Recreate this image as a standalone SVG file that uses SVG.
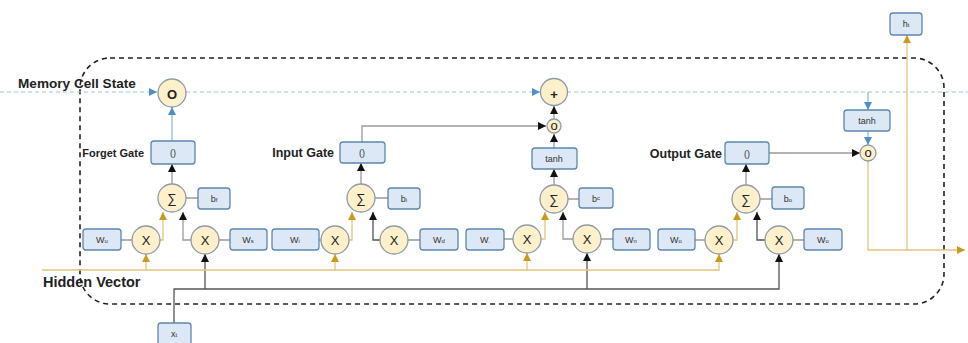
<svg xmlns="http://www.w3.org/2000/svg" width="968" height="343" viewBox="0 0 968 343">
<style>
.bx{fill:#dce8f5;stroke:#5d86ad;stroke-width:1.3}
.cc{fill:#fdf0cb;stroke:#8e9ba6;stroke-width:1.3}
.bt{font-family:"Liberation Sans",Arial,sans-serif;font-size:9px;fill:#333;text-anchor:middle}
.ct{font-family:"Liberation Sans",Arial,sans-serif;font-size:13px;fill:#222;text-anchor:middle}
.lb{font-family:"Liberation Sans",Arial,sans-serif;font-weight:bold;fill:#222}
.s{font-size:6px}
.g{fill:none;stroke:#9a9a9a;stroke-width:1.3}
.k{fill:none;stroke:#555;stroke-width:1.3}
.o{fill:none;stroke:#e2c57c;stroke-width:1.3}
.b{fill:none;stroke:#86b5db;stroke-width:1.2}
.bd{fill:none;stroke:#9cc4e0;stroke-width:1.2;stroke-dasharray:4 3}
</style>
<defs>
<marker id="ak" viewBox="0 0 10 10" refX="10" refY="5" markerWidth="8" markerHeight="8" orient="auto" markerUnits="userSpaceOnUse"><path d="M0,0 L10,5 L0,10 z" fill="#111"/></marker>
<marker id="ao" viewBox="0 0 10 10" refX="10" refY="5" markerWidth="8" markerHeight="8" orient="auto" markerUnits="userSpaceOnUse"><path d="M0,0 L10,5 L0,10 z" fill="#c99a1c"/></marker>
<marker id="ab" viewBox="0 0 10 10" refX="10" refY="5" markerWidth="8" markerHeight="8" orient="auto" markerUnits="userSpaceOnUse"><path d="M0,0 L10,5 L0,10 z" fill="#4f90c8"/></marker>
</defs>

<rect x="80" y="58" width="864" height="246" rx="30" fill="none" stroke="#222" stroke-width="1.6" stroke-dasharray="5 4"/>

<g id="connectors">
<path class="bd" d="M0,92 H157" marker-end="url(#ab)"/>
<path class="bd" d="M186,92 H540" marker-end="url(#ab)"/>
<path class="bd" d="M567,92 H968"/>
<path class="b" d="M172,141 V107" marker-end="url(#ab)"/>
<path class="b" d="M868,92 V110" marker-end="url(#ab)"/>
<path class="b" d="M868,131 V145" marker-end="url(#ab)"/>

<path class="g" d="M172,184 V164" marker-end="url(#ak)"/>
<path class="g" d="M191,240 H183 V212" marker-end="url(#ak)"/>
<path class="g" d="M361,184 V163" marker-end="url(#ak)"/>
<path class="k" d="M380,240 H373 V212" marker-end="url(#ak)"/>
<path class="g" d="M362,142 V126 H546" marker-end="url(#ak)"/>
<path class="g" d="M554,185 V169" marker-end="url(#ak)"/>
<path class="g" d="M554,148 V134" marker-end="url(#ak)"/>
<path class="g" d="M554,119 V106" marker-end="url(#ak)"/>
<path class="g" d="M573,239 H563 V212" marker-end="url(#ak)"/>
<path class="g" d="M746,185 V164" marker-end="url(#ak)"/>
<path class="k" d="M765,240 H757 V212" marker-end="url(#ak)"/>
<path class="g" d="M769,153 H860" marker-end="url(#ak)"/>

<path class="k" d="M174,323 V289 H779 V254" marker-end="url(#ak)"/>
<path class="k" d="M205,289 V254" marker-end="url(#ak)"/>
<path class="k" d="M587,289 V253" marker-end="url(#ak)"/>

<path class="o" d="M42,270 H719 V254" marker-end="url(#ao)"/>
<path class="o" d="M146,270 V254" marker-end="url(#ao)"/>
<path class="o" d="M335,270 V254" marker-end="url(#ao)"/>
<path class="o" d="M527,270 V253" marker-end="url(#ao)"/>
<path class="o" d="M160,240 H163 V212" marker-end="url(#ao)"/>
<path class="o" d="M349,240 H352 V212" marker-end="url(#ao)"/>
<path class="o" d="M541,239 H545 V212" marker-end="url(#ao)"/>
<path class="o" d="M733,240 H737 V212" marker-end="url(#ao)"/>
<path class="o" d="M868,161 V250 H965" marker-end="url(#ao)"/>
<path class="o" d="M907,250 V35" marker-end="url(#ao)"/>

<path class="g" d="M121,240 H132 M219,240 H230 M319,240 H321 M408,240 H420 M504,239 H513 M601,239 H613 M695,240 H705 M793,240 H804"/>
<path class="g" d="M186,198 H198 M375,198 H388 M568,199 H579 M760,199 H772"/>
</g>

<text class="lb" x="18" y="88" font-size="13.6">Memory Cell State</text>
<text class="lb" x="43" y="287" font-size="14.5">Hidden Vector</text>

<g id="mem"><circle class="cc" cx="172" cy="93" r="14"/><text class="ct" x="172" y="99" font-weight="bold" font-size="16">O</text></g>
<g id="plus"><circle class="cc" cx="554" cy="92" r="13.5"/><text class="ct" x="554" y="99" font-weight="bold" font-size="20">+</text></g>
<g id="mulc"><circle class="cc" cx="554" cy="126" r="7"/><text class="ct" x="554" y="130" font-size="10">o</text></g>
<g id="mulh"><circle class="cc" cx="868" cy="153" r="8"/><text class="ct" x="868" y="157" font-size="10">o</text></g>

<g id="fgate"><text class="lb" x="144" y="157" font-size="11" text-anchor="end">Forget Gate</text><rect class="bx" x="151" y="141" width="44" height="23" rx="3"/><text class="bt" x="173" y="156" font-size="10">()</text></g>
<g id="igate"><text class="lb" x="334" y="157" font-size="12.5" text-anchor="end">Input Gate</text><rect class="bx" x="340" y="142" width="45" height="21" rx="3"/><text class="bt" x="362" y="156" font-size="10">()</text></g>
<g id="ogate"><text class="lb" x="722" y="158" font-size="12.5" text-anchor="end">Output Gate</text><rect class="bx" x="725" y="142" width="44" height="22" rx="3"/><text class="bt" x="747" y="157" font-size="10">()</text></g>
<g id="tanhc"><rect class="bx" x="532" y="148" width="45" height="21" rx="3"/><text class="bt" x="554" y="162">tanh</text></g>
<g id="tanhh"><rect class="bx" x="844" y="110" width="46" height="21" rx="3"/><text class="bt" x="867" y="124">tanh</text></g>
<g id="ht"><rect class="bx" x="890" y="13" width="32" height="22" rx="3"/><text class="bt" x="906" y="27">h<tspan class="s">t</tspan></text></g>
<g id="xt"><rect class="bx" x="158" y="323" width="33" height="22" rx="3"/><text class="bt" x="174" y="337">x<tspan class="s">t</tspan></text></g>

<g id="sf"><circle class="cc" cx="172" cy="198" r="14"/><text class="ct" x="172" y="203">∑</text></g>
<g id="si"><circle class="cc" cx="361" cy="198" r="14"/><text class="ct" x="361" y="203">∑</text></g>
<g id="sc"><circle class="cc" cx="554" cy="199" r="14"/><text class="ct" x="554" y="204">∑</text></g>
<g id="so"><circle class="cc" cx="746" cy="199" r="14"/><text class="ct" x="746" y="204">∑</text></g>

<g id="bf"><rect class="bx" x="198" y="188" width="32" height="21" rx="3"/><text class="bt" x="214" y="202">b<tspan class="s">f</tspan></text></g>
<g id="bi"><rect class="bx" x="388" y="188" width="32" height="21" rx="3"/><text class="bt" x="404" y="202">b<tspan class="s">i</tspan></text></g>
<g id="bc"><rect class="bx" x="579" y="188" width="34" height="20" rx="3"/><text class="bt" x="596" y="202">b<tspan class="s" dy="-2">c</tspan></text></g>
<g id="bo"><rect class="bx" x="772" y="187" width="32" height="22" rx="3"/><text class="bt" x="788" y="202">b<tspan class="s">o</tspan></text></g>

<g id="x1"><circle class="cc" cx="146" cy="240" r="14"/><text class="ct" x="146" y="245">X</text></g>
<g id="x2"><circle class="cc" cx="205" cy="240" r="14"/><text class="ct" x="205" y="245">X</text></g>
<g id="x3"><circle class="cc" cx="335" cy="240" r="14"/><text class="ct" x="335" y="245">X</text></g>
<g id="x4"><circle class="cc" cx="394" cy="240" r="14"/><text class="ct" x="394" y="245">X</text></g>
<g id="x5"><circle class="cc" cx="527" cy="239" r="14"/><text class="ct" x="527" y="244">X</text></g>
<g id="x6"><circle class="cc" cx="587" cy="239" r="14"/><text class="ct" x="587" y="244">X</text></g>
<g id="x7"><circle class="cc" cx="719" cy="240" r="14"/><text class="ct" x="719" y="245">X</text></g>
<g id="x8"><circle class="cc" cx="779" cy="240" r="14"/><text class="ct" x="779" y="245">X</text></g>

<g id="w1"><rect class="bx" x="83" y="229" width="38" height="21" rx="3"/><text class="bt" x="102" y="243">W<tspan class="s">u</tspan></text></g>
<g id="w2"><rect class="bx" x="230" y="229" width="37" height="21" rx="3"/><text class="bt" x="248" y="243">W<tspan class="s">s</tspan></text></g>
<g id="w3"><rect class="bx" x="272" y="229" width="47" height="21" rx="3"/><text class="bt" x="295" y="243">W<tspan class="s">i</tspan></text></g>
<g id="w4"><rect class="bx" x="420" y="229" width="38" height="21" rx="3"/><text class="bt" x="439" y="243">W<tspan class="s">d</tspan></text></g>
<g id="w5"><rect class="bx" x="466" y="229" width="38" height="21" rx="3"/><text class="bt" x="485" y="243">W<tspan class="s">.</tspan></text></g>
<g id="w6"><rect class="bx" x="613" y="229" width="37" height="21" rx="3"/><text class="bt" x="631" y="243">W<tspan class="s">n</tspan></text></g>
<g id="w7"><rect class="bx" x="658" y="229" width="37" height="21" rx="3"/><text class="bt" x="676" y="243">W<tspan class="s">o</tspan></text></g>
<g id="w8"><rect class="bx" x="804" y="229" width="38" height="21" rx="3"/><text class="bt" x="823" y="243">W<tspan class="s">o</tspan></text></g>
</svg>
